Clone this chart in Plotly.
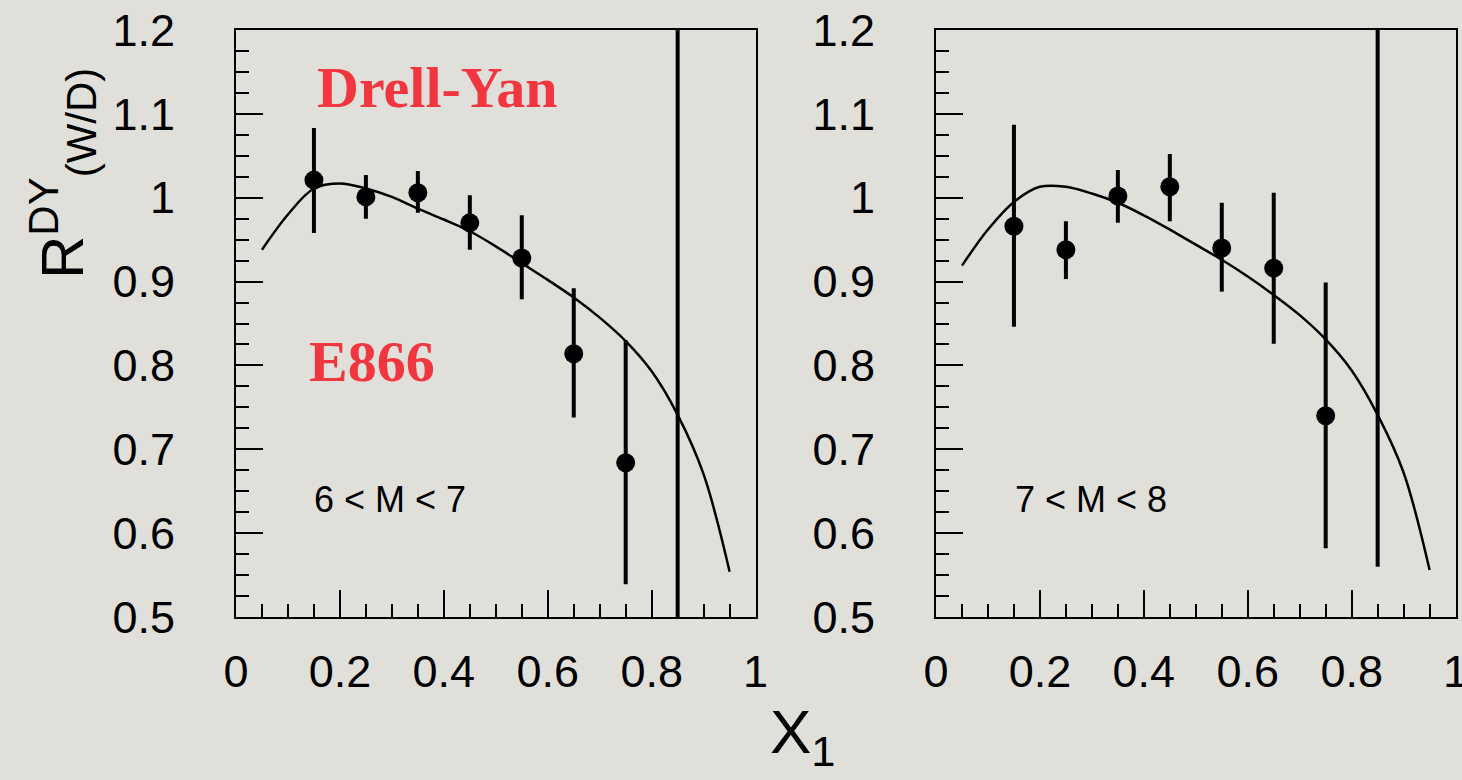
import plotly.graph_objects as go

# ---------------- data ----------------
x_pts = [0.15, 0.25, 0.35, 0.45, 0.55, 0.65, 0.75, 0.85]

# 6 < M < 7
y_left = [1.021, 1.001, 1.006, 0.970, 0.928, 0.814, 0.684, 1.35]
err_up_left = [0.062, 0.026, 0.026, 0.033, 0.051, 0.078, 0.146, 0.50]
err_dn_left = [0.063, 0.026, 0.024, 0.032, 0.049, 0.076, 0.145, 1.00]

# 7 < M < 8
y_right = [0.966, 0.938, 1.002, 1.013, 0.940, 0.916, 0.740, 1.35]
err_up_right = [0.121, 0.034, 0.031, 0.039, 0.054, 0.090, 0.159, 0.50]
err_dn_right = [0.120, 0.035, 0.032, 0.041, 0.052, 0.090, 0.158, 0.79]

x_curve = [0.05, 0.10, 0.15, 0.20, 0.25, 0.30, 0.35, 0.40, 0.45, 0.50,
           0.55, 0.60, 0.65, 0.70, 0.75, 0.80, 0.85, 0.90, 0.95]
curve_left = [0.938, 0.980, 1.011, 1.017, 1.011, 1.001, 0.987, 0.974, 0.960, 0.942,
              0.922, 0.902, 0.881, 0.857, 0.829, 0.793, 0.741, 0.670, 0.554]
curve_right = [0.919, 0.962, 0.995, 1.013, 1.013, 1.005, 0.994, 0.979, 0.962, 0.944,
               0.926, 0.906, 0.884, 0.860, 0.831, 0.794, 0.741, 0.672, 0.556]

x_ticks = [0, 0.2, 0.4, 0.6, 0.8, 1]
x_ticklabels = ["0", "0.2", "0.4", "0.6", "0.8", "1"]
y_ticks = [0.5, 0.6, 0.7, 0.8, 0.9, 1.0, 1.1, 1.2]
y_ticklabels = ["0.5", "0.6", "0.7", "0.8", "0.9", "1", "1.1", "1.2"]

panel_labels = ["6 < M < 7", "7 < M < 8"]

# ---------------- figure ----------------
W, H = 1462, 780
BG = "#e1dfda"
RED = "#f2363f"
fig = go.Figure()

panels = [
    ("x", "y", y_left, err_up_left, err_dn_left, curve_left),
    ("x2", "y2", y_right, err_up_right, err_dn_right, curve_right),
]
for xa, ya, yv, eu, ed, cv in panels:
    fig.add_trace(go.Scatter(
        x=x_curve, y=cv, mode="lines", xaxis=xa, yaxis=ya,
        line=dict(color="black", width=2.5, shape="spline", smoothing=1.0),
        showlegend=False, hoverinfo="skip"))
    fig.add_trace(go.Scatter(
        x=x_pts, y=yv, mode="markers", xaxis=xa, yaxis=ya,
        marker=dict(color="black", size=19),
        error_y=dict(type="data", array=eu, arrayminus=ed, symmetric=False,
                     color="black", thickness=4, width=0),
        showlegend=False, cliponaxis=True))

tickfont = dict(family="Liberation Sans, Arial, sans-serif", size=45, color="black")
common_x = dict(range=[0, 1], tickmode="array", tickvals=x_ticks, ticktext=x_ticklabels,
                ticks="inside", ticklen=27, tickwidth=2, tickcolor="black",
                showline=True, linecolor="black", linewidth=2, mirror=True,
                showgrid=False, zeroline=False, tickfont=tickfont,
                ticklabelstandoff=14, automargin=False, ticklabeloverflow="allow",
                minor=dict(ticks="inside", ticklen=13, tickwidth=2, tickcolor="black",
                           dtick=0.05, showgrid=False))
common_y = dict(range=[0.5, 1.2], tickmode="array", tickvals=y_ticks, ticktext=y_ticklabels,
                ticks="inside", ticklen=27, tickwidth=2, tickcolor="black",
                showline=True, linecolor="black", linewidth=2, mirror=True,
                showgrid=False, zeroline=False, tickfont=tickfont,
                ticklabelstandoff=50, automargin=False, ticklabeloverflow="allow",
                minor=dict(ticks="inside", ticklen=13, tickwidth=2, tickcolor="black",
                           dtick=0.025, showgrid=False))

y0 = 1 - 617 / H
y1 = 1 - 30 / H
fig.update_layout(
    width=W, height=H,
    margin=dict(l=0, r=0, t=0, b=0, autoexpand=False),
    paper_bgcolor=BG, plot_bgcolor=BG,
    xaxis=dict(domain=[236 / W, 755.6 / W], anchor="y", **common_x),
    yaxis=dict(domain=[y0, y1], anchor="x", **common_y),
    xaxis2=dict(domain=[936 / W, 1455.6 / W], anchor="y2", **common_x),
    yaxis2=dict(domain=[y0, y1], anchor="x2", **common_y),
)

serif = "Liberation Serif, Times New Roman, serif"
sans = "Liberation Sans, Arial, sans-serif"
annotations = [
    dict(text="<b>Drell-Yan</b>", xref="x", yref="y", x=0.387, y=1.131,
         font=dict(family=serif, size=58, color=RED)),
    dict(text="<b>E866</b>", xref="x", yref="y", x=0.262, y=0.805,
         font=dict(family=serif, size=58, color=RED)),
    dict(text=panel_labels[0], xref="x", yref="y", x=0.296, y=0.640,
         font=dict(family=sans, size=36, color="black")),
    dict(text=panel_labels[1], xref="x2", yref="y2", x=0.298, y=0.640,
         font=dict(family=sans, size=36, color="black")),
    dict(text="R<sup>DY</sup><sub>(W/D)</sub>", xref="paper", yref="paper",
         x=62 / W, y=1 - 174 / H, textangle=-90,
         font=dict(family=sans, size=60, color="black")),
    dict(text="X<sub>1</sub>", xref="paper", yref="paper",
         x=803 / W, y=1 - 736 / H,
         font=dict(family=sans, size=62, color="black")),
]
for a in annotations:
    a.update(showarrow=False, xanchor="center", yanchor="middle")
fig.update_layout(annotations=annotations)

fig.write_html("out.html")
